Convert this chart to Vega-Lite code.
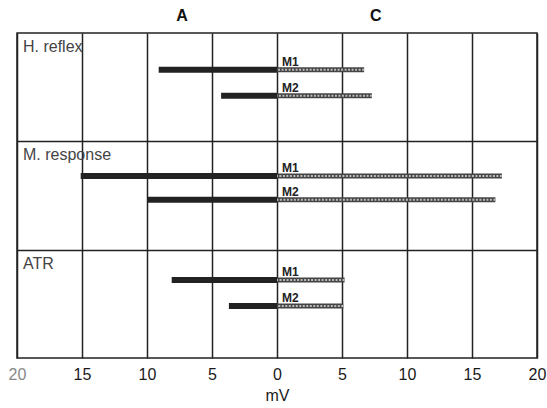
{
  "$schema": "https://vega.github.io/schema/vega-lite/v6.json",
  "width": 520,
  "height": 325,
  "autosize": {"type": "none"},
  "padding": {"left": 17, "top": 33, "right": 10, "bottom": 50},
  "background": "white",
  "config": {
    "view": {"stroke": "#222", "strokeWidth": 1.5},
    "font": "Liberation Sans"
  },
  "datasets": {
    "bars": [
      {"panel": "H. reflex", "series": "M1", "side": "A", "value": -9.1, "y": 3.4},
      {"panel": "H. reflex", "series": "M1", "side": "C", "value": 6.7, "y": 3.4},
      {"panel": "H. reflex", "series": "M2", "side": "A", "value": -4.3, "y": 5.8},
      {"panel": "H. reflex", "series": "M2", "side": "C", "value": 7.3, "y": 5.8},
      {"panel": "M. response", "series": "M1", "side": "A", "value": -15.1, "y": 13.2},
      {"panel": "M. response", "series": "M1", "side": "C", "value": 17.3, "y": 13.2},
      {"panel": "M. response", "series": "M2", "side": "A", "value": -10.0, "y": 15.4},
      {"panel": "M. response", "series": "M2", "side": "C", "value": 16.8, "y": 15.4},
      {"panel": "ATR", "series": "M1", "side": "A", "value": -8.1, "y": 22.8},
      {"panel": "ATR", "series": "M1", "side": "C", "value": 5.2, "y": 22.8},
      {"panel": "ATR", "series": "M2", "side": "A", "value": -3.7, "y": 25.2},
      {"panel": "ATR", "series": "M2", "side": "C", "value": 5.1, "y": 25.2}
    ],
    "panels": [
      {"panel": "H. reflex", "top": 0},
      {"panel": "M. response", "top": 10},
      {"panel": "ATR", "top": 20}
    ],
    "sides": [
      {"label": "A", "x": -7.3},
      {"label": "C", "x": 7.6}
    ]
  },
  "layer": [
    {
      "data": {"name": "bars"},
      "transform": [{"filter": "datum.side == 'A'"}],
      "mark": {"type": "rule", "strokeWidth": 6, "color": "#222", "strokeCap": "butt"},
      "encoding": {
        "x": {
          "field": "value", "type": "quantitative",
          "scale": {"domain": [-20, 20], "nice": false},
          "axis": {
            "values": [-20, -15, -10, -5, 0, 5, 10, 15, 20],
            "labelExpr": "abs(datum.value)",
            "grid": true, "gridColor": "#222", "gridWidth": 1.5, "gridOpacity": 1,
            "ticks": false, "domain": false,
            "labelFontSize": 16, "labelPadding": 8, "labelFlush": false, "labelOverlap": false,
            "labelColor": {"condition": {"test": "datum.value == -20", "value": "#888"}, "value": "#1a1a1a"},
            "title": "mV", "titleFontSize": 16, "titleFontWeight": "normal", "titlePadding": 5, "titleColor": "#1a1a1a"
          }
        },
        "x2": {"datum": 0},
        "y": {
          "field": "y", "type": "quantitative",
          "scale": {"domain": [0, 30], "reverse": true, "nice": false},
          "axis": {
            "values": [10, 20], "grid": true, "gridColor": "#222", "gridWidth": 1.5, "gridOpacity": 1,
            "labels": false, "ticks": false, "domain": false, "title": null
          }
        }
      }
    },
    {
      "data": {"name": "bars"},
      "transform": [{"filter": "datum.side == 'C'"}],
      "mark": {"type": "rule", "strokeWidth": 5, "color": "#444", "strokeCap": "butt"},
      "encoding": {
        "x": {"field": "value", "type": "quantitative"},
        "x2": {"datum": 0},
        "y": {"field": "y", "type": "quantitative"}
      }
    },
    {
      "data": {"name": "bars"},
      "transform": [{"filter": "datum.side == 'C'"}],
      "mark": {"type": "rule", "strokeWidth": 2, "color": "#bbbbbb", "strokeCap": "butt", "strokeDash": [2, 1.5]},
      "encoding": {
        "x": {"field": "value", "type": "quantitative"},
        "x2": {"datum": 0},
        "y": {"field": "y", "type": "quantitative"}
      }
    },
    {
      "data": {"name": "bars"},
      "transform": [{"filter": "datum.side == 'C'"}],
      "mark": {"type": "text", "align": "left", "baseline": "alphabetic", "dx": 5, "dy": -4, "fontSize": 12, "fontWeight": "bold", "color": "#222"},
      "encoding": {
        "x": {"datum": 0, "type": "quantitative"},
        "y": {"field": "y", "type": "quantitative"},
        "text": {"field": "series"}
      }
    },
    {
      "data": {"name": "panels"},
      "mark": {"type": "text", "align": "left", "baseline": "middle", "dx": 6, "dy": 14, "fontSize": 16, "color": "#444"},
      "encoding": {
        "x": {"datum": -20, "type": "quantitative"},
        "y": {"field": "top", "type": "quantitative"},
        "text": {"field": "panel"}
      }
    },
    {
      "data": {"name": "sides"},
      "mark": {"type": "text", "align": "center", "baseline": "middle", "fontSize": 16, "fontWeight": "bold", "color": "#111"},
      "encoding": {
        "x": {"field": "x", "type": "quantitative"},
        "y": {"datum": -1.55, "type": "quantitative"},
        "text": {"field": "label"}
      }
    }
  ]
}
